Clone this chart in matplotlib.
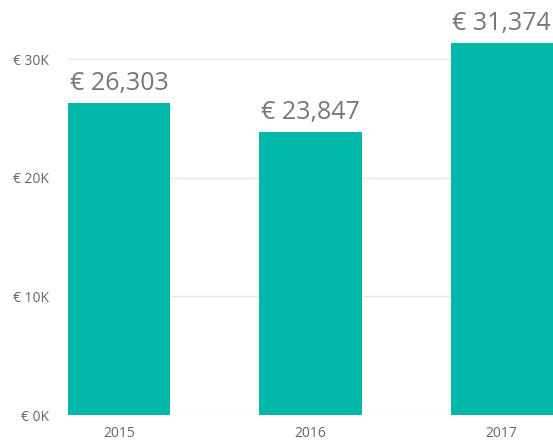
import matplotlib.pyplot as plt

years = ["2015", "2016", "2017"]
values = [26303, 23847, 31374]
yticks = [0, 10000, 20000, 30000]
ytick_labels = ["€ 0K", "€ 10K", "€ 20K", "€ 30K"]

plt.rcParams['font.family'] = ['Open Sans', 'DejaVu Sans']

fig = plt.figure(figsize=(5.53, 4.42), dpi=100)
ax = fig.add_axes([0.123, 0.061, 0.877, 0.939])

x = range(len(years))
bars = ax.bar(x, values, width=0.535, color="#01B8AA", zorder=3)

for xi, v in zip(x, values):
    ax.text(xi, v + 600, "€ {:,}".format(v), ha="center", va="bottom",
            fontsize=18, color="#777777")

ax.set_xlim(-0.268, 2.268)
ax.set_ylim(0, 35000)
ax.set_yticks(yticks)
ax.set_yticklabels(ytick_labels)
ax.set_xticks(list(x))
ax.set_xticklabels(years)
ax.grid(axis="y", color="#e8e8e8", lw=1, zorder=0)
for s in ax.spines.values():
    s.set_visible(False)
ax.tick_params(axis="both", length=0, labelsize=10, colors="#666666")
ax.tick_params(axis="y", pad=14)
ax.tick_params(axis="x", pad=8)

fig.savefig("out.png", dpi=100)
